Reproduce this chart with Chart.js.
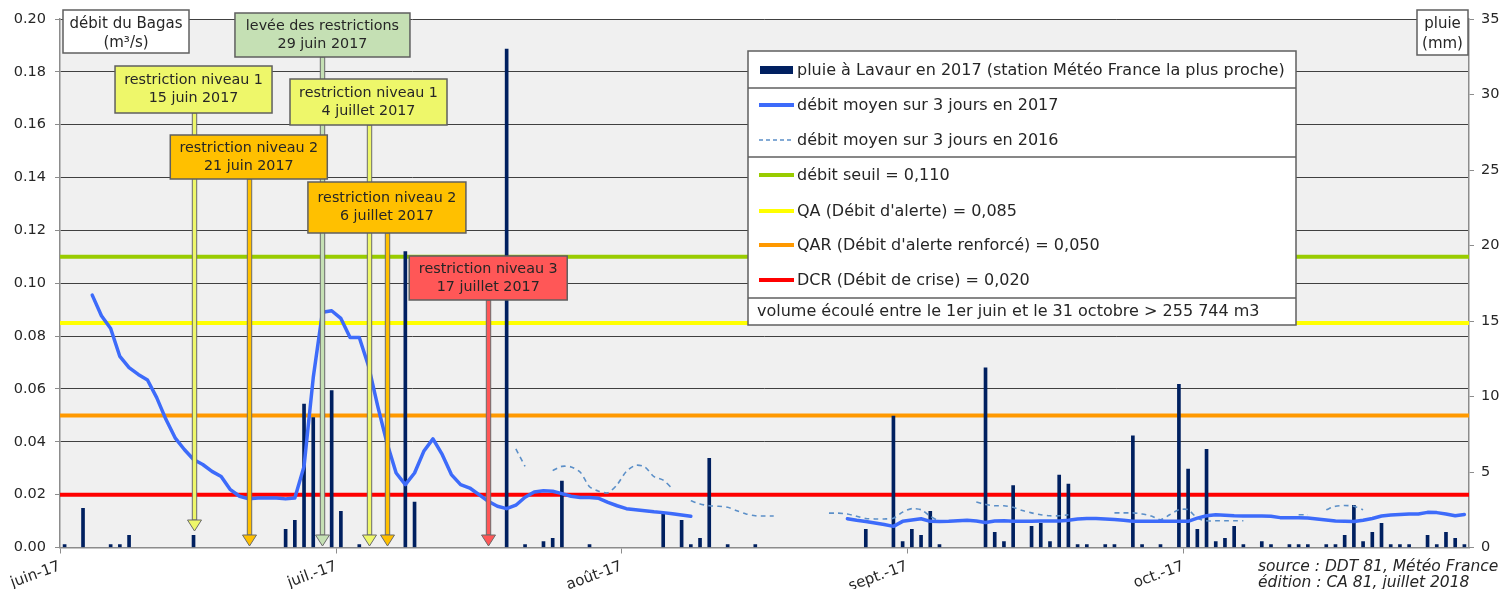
<!DOCTYPE html>
<html><head><meta charset="utf-8">
<script src="https://cdn.jsdelivr.net/npm/chart.js@4.4.1/dist/chart.umd.min.js"></script>
<style>html,body{margin:0;padding:0;background:#fff;}#wrap{width:1500px;height:589px;position:relative;}</style>
</head><body><div id="wrap"><canvas id="c" width="1500" height="589"></canvas></div>
<script>
// ---------------- DATA ----------------
const totalDays = 153; // 1 June .. 31 October 2017 (day index 0 = 1 June)
const monthStartDays = [0, 30, 61, 92, 122];
const monthLabels = ['juin-17', 'juil.-17', 'août-17', 'sept.-17', 'oct.-17'];
const flowTicks = [0, 0.02, 0.04, 0.06, 0.08, 0.10, 0.12, 0.14, 0.16, 0.18, 0.20];
const rainTicks = [0, 5, 10, 15, 20, 25, 30, 35];

// daily rain at Lavaur (mm)
const rainDays = [0,2,5,6,7,14,24,25,26,27,29,30,32,37,38,48,50,52,53,54,57,65,67,68,69,70,72,75,87,90,91,92,93,94,95,
  100,101,102,103,105,106,107,108,109,110,111,113,114,116,117,119,121,122,123,124,125,126,127,128,130,131,133,134,135,
  137,138,139,140,141,142,143,144,145,146,148,149,150,151,152];
const rainMm = [0.2,2.6,0.2,0.2,0.8,0.8,1.2,1.8,9.5,8.6,10.4,2.4,0.2,19.6,3.0,33.0,0.2,0.4,0.6,4.4,0.2,2.2,1.8,0.2,0.6,5.9,0.2,0.2,1.2,8.7,0.4,1.2,0.8,2.4,0.2,
  11.9,1.0,0.4,4.1,1.4,1.6,0.4,4.8,4.2,0.2,0.2,0.2,0.2,7.4,0.2,0.2,10.8,5.2,1.2,6.5,0.4,0.6,1.4,0.2,0.4,0.2,0.2,0.2,0.2,
  0.2,0.2,0.8,2.8,0.4,1.0,1.6,0.2,0.2,0.2,0.8,0.2,1.0,0.6,0.2];

// 3-day mean flow 2017 (m3/s), starting at day index 3
const flow2017Start = 3;
const flow2017 = [
  0.0955,0.0877,0.0829,0.0723,0.0681,0.0655,0.0634,0.0567,0.0485,0.0415,
  0.0371,0.0333,0.0314,0.0288,0.0269,0.0219,0.0194,0.0184,0.0187,0.0187,
  0.0187,0.0184,0.0187,0.0307,0.0643,0.0890,0.0896,0.0867,0.0795,0.0795,
  0.0687,0.0535,0.0396,0.0282,0.0238,0.0282,0.0364,0.0411,0.0352,0.0276,
  0.0238,0.0225,0.0200,0.0175,0.0156,0.0147,0.0160,0.0190,0.0210,0.0215,
  0.0213,0.0204,0.0194,0.0189,0.0189,0.0186,0.0171,0.0158,0.0147,0.0143,
  0.0139,0.0135,0.0132,0.0128,0.0123,0.0118,null,null,null,null,
  null,null,null,null,null,null,null,null,null,null,
  null,null,0.0109,0.0103,0.0098,0.0093,0.0087,0.0080,0.0099,0.0104,
  0.0109,0.0099,0.0098,0.0099,0.0101,0.0103,0.0100,0.0095,0.0100,0.0101,
  0.0099,0.0099,0.0099,0.0100,0.0100,0.0100,0.0103,0.0108,0.0110,0.0110,
  0.0108,0.0106,0.0103,0.0099,0.0099,0.0099,0.0099,0.0099,0.0099,0.0099,
  0.0111,0.0120,0.0124,0.0122,0.0120,0.0119,0.0119,0.0119,0.0118,0.0113,
  0.0113,0.0113,0.0112,0.0108,0.0104,0.0100,0.0099,0.0098,0.0103,0.0110,
  0.0119,0.0123,0.0125,0.0127,0.0127,0.0133,0.0132,0.0127,0.0120,0.0125];

// 3-day mean flow 2016 (m3/s), starting at day index 49
const flow2016Start = 49;
const flow2016 = [
  0.0373,0.0307,null,null,0.0291,0.0307,0.0305,0.0285,0.0230,0.0213,
  0.0207,0.0238,0.0288,0.0311,0.0305,0.0268,0.0255,0.0222,null,0.0177,
  0.0165,0.0158,0.0156,0.0152,0.0139,0.0127,0.0120,0.0119,0.0119,null,
  null,null,null,null,0.0130,0.0130,0.0127,0.0118,0.0110,0.0108,
  0.0108,0.0111,0.0134,0.0147,0.0143,0.0118,0.0099,null,null,null,
  0.0172,0.0163,0.0158,0.0158,0.0152,0.0140,0.0131,0.0124,0.0120,0.0120,
  0.0124,null,null,null,null,0.0131,0.0131,0.0131,0.0127,0.0119,
  0.0105,0.0124,0.0143,0.0143,0.0111,0.0101,0.0101,0.0101,0.0101,0.0101,
  null,null,null,null,null,0.0124,0.0124,null,0.0143,0.0156,
  0.0159,0.0156,0.0143];

const thresholdLabels = ['débit seuil = 0,110', "QA (Débit d'alerte) = 0,085", "QAR (Débit d'alerte renforcé) = 0,050", 'DCR (Débit de crise) = 0,020'];
const thresholdValues = [0.110, 0.085, 0.050, 0.020];

// restriction events
const eventDays = [14, 20, 28, 33, 35, 46];
const eventTitles = ['restriction niveau 1', 'restriction niveau 2', 'levée des restrictions', 'restriction niveau 1', 'restriction niveau 2', 'restriction niveau 3'];
const eventDates = ['15 juin 2017', '21 juin 2017', '29 juin 2017', '4 juillet 2017', '6 juillet 2017', '17 juillet 2017'];

// ---------------- STYLE / LAYOUT ----------------
const FONT = '"DejaVu Sans", Verdana, sans-serif';
const TEXT = '#262626';
const AXIS = '#8c8c8c';
const thresholdColors = ['#99CC00', '#FFFF00', '#FF9900', '#FF0000'];
const eventStyle = [
  {fill:'#EEF76A', top:66, bottom:113, width:157, tip:531},
  {fill:'#FFC000', top:135, bottom:179, width:157, tip:546},
  {fill:'#C5E0B4', top:13, bottom:57, width:175, tip:546},
  {fill:'#EEF76A', top:79, bottom:125, width:157, tip:546},
  {fill:'#FFC000', top:182, bottom:233, width:158, tip:546},
  {fill:'#FF5757', top:256, bottom:300, width:158, tip:546}
];

const pts = (start, arr) => arr.map((v, i) => ({x: start + i + 0.5, y: v}));

const datasets = [
  {label:'pluie à Lavaur en 2017 (station Météo France la plus proche)', type:'bar', yAxisID:'y2', xAxisID:'x',
   data: rainDays.map((d, i) => ({x: d + 0.5, y: rainMm[i]})), backgroundColor:'#002060', barThickness:3, order:5, _leg:'bar'},
  {label:'débit moyen sur 3 jours en 2017', type:'line', yAxisID:'y', xAxisID:'x', data: pts(flow2017Start, flow2017),
   borderColor:'#3D6BFA', borderWidth:3.5, pointRadius:0, tension:0, spanGaps:false, borderJoinStyle:'round', borderCapStyle:'round', order:1, _leg:'line'},
  {label:'débit moyen sur 3 jours en 2016', type:'line', yAxisID:'y', xAxisID:'x', data: pts(flow2016Start, flow2016),
   borderColor:'#5B8FC8', borderWidth:1.6, borderDash:[5,4], pointRadius:0, tension:0.25, spanGaps:false, order:2, _leg:'dash'}
];
thresholdValues.forEach((v, i) => datasets.push({
  label: thresholdLabels[i], type:'line', yAxisID:'y', xAxisID:'x',
  data:[{x:0, y:v}, {x:totalDays, y:v}], borderColor: thresholdColors[i], borderWidth:4, pointRadius:0, order:10, _leg:'line'
}));

const bgPlugin = {
  id:'bg',
  beforeDraw(chart){
    const {ctx, chartArea:a} = chart;
    ctx.save();
    ctx.fillStyle = '#fff'; ctx.fillRect(0, 0, chart.width, chart.height);
    ctx.fillStyle = '#F0F0F0'; ctx.fillRect(a.left, a.top, a.right - a.left, a.bottom - a.top);
    ctx.restore();
  }
};

function box(ctx, x0, y0, x1, y1, fill){
  ctx.fillStyle = fill; ctx.fillRect(x0, y0, x1 - x0, y1 - y0);
  ctx.strokeStyle = '#5f5f5f'; ctx.lineWidth = 1.5; ctx.strokeRect(x0, y0, x1 - x0, y1 - y0);
}

const overlay = {
  id:'overlay',
  afterDraw(chart){
    const {ctx} = chart;
    const xs = chart.scales.x;
    ctx.save();
    // arrows
    eventDays.forEach((d, i) => {
      const s = eventStyle[i];
      const x = Math.round(xs.getPixelForValue(d + 0.5)) + 0.5;
      const hh = 11, hw = 7, sw = 2.2;
      ctx.fillStyle = s.fill; ctx.strokeStyle = '#6b6b6b'; ctx.lineWidth = 1;
      ctx.fillRect(x - sw, s.bottom, 2 * sw, s.tip - hh - s.bottom);
      ctx.strokeRect(x - sw, s.bottom, 2 * sw, s.tip - hh - s.bottom);
      ctx.beginPath(); ctx.moveTo(x - hw, s.tip - hh); ctx.lineTo(x + hw, s.tip - hh); ctx.lineTo(x, s.tip); ctx.closePath();
      ctx.fill(); ctx.stroke();
    });
    // boxes
    ctx.font = '14.3px ' + FONT; ctx.textAlign = 'center'; ctx.textBaseline = 'middle';
    eventDays.forEach((d, i) => {
      const s = eventStyle[i];
      const x = xs.getPixelForValue(d + 0.5);
      box(ctx, x - s.width / 2, s.top, x + s.width / 2, s.bottom, s.fill);
      const cy = (s.top + s.bottom) / 2;
      ctx.fillStyle = TEXT;
      ctx.fillText(eventTitles[i], x, cy - 8.8);
      ctx.fillText(eventDates[i], x, cy + 8.8);
    });
    // axis title boxes
    ctx.font = '15px ' + FONT;
    box(ctx, 63, 10, 189, 53, '#fff');
    ctx.fillStyle = TEXT;
    ctx.fillText('débit du Bagas', 126, 24);
    ctx.fillText('(m³/s)', 126, 43);
    box(ctx, 1417, 10, 1468, 55, '#fff');
    ctx.fillStyle = TEXT;
    ctx.fillText('pluie', 1442.5, 24);
    ctx.fillText('(mm)', 1442.5, 44);

    // legend
    const L = {left:748, right:1296, top:51, bottom:325, seps:[88, 157, 298], rows:[70, 105, 140, 175, 211, 245, 280], last:312};
    box(ctx, L.left, L.top, L.right, L.bottom, '#fff');
    ctx.strokeStyle = '#5f5f5f'; ctx.lineWidth = 1.5;
    L.seps.forEach(y => { ctx.beginPath(); ctx.moveTo(L.left, y); ctx.lineTo(L.right, y); ctx.stroke(); });
    ctx.font = '16px ' + FONT; ctx.textAlign = 'left'; ctx.textBaseline = 'middle';
    chart.data.datasets.forEach((ds, i) => {
      const y = L.rows[i];
      ctx.save();
      if (ds._leg === 'bar') {
        ctx.fillStyle = ds.backgroundColor; ctx.fillRect(760, y - 4, 33, 8);
      } else {
        ctx.strokeStyle = ds.borderColor;
        ctx.lineWidth = ds._leg === 'dash' ? 1.6 : 4;
        ctx.setLineDash(ds._leg === 'dash' ? [4, 3] : []);
        ctx.beginPath(); ctx.moveTo(759, y); ctx.lineTo(794, y); ctx.stroke();
      }
      ctx.restore();
      ctx.fillStyle = TEXT;
      ctx.fillText(ds.label, 797, y + 1);
    });
    ctx.fillText('volume écoulé entre le 1er juin et le 31 octobre > 255 744 m3', 757, L.last);

    // source
    ctx.font = 'italic 15.5px ' + FONT;
    ctx.fillText('source : DDT 81, Météo France', 1258, 567);
    ctx.fillText('édition : CA 81, juillet 2018', 1258, 583);
    ctx.restore();
  }
};

new Chart(document.getElementById('c'), {
  type:'bar',
  data:{datasets},
  options:{
    responsive:false, animation:false, devicePixelRatio:1,
    layout:{padding:{top:19, left:0, right:0, bottom:0}},
    plugins:{legend:{display:false}, tooltip:{enabled:false}},
    scales:{
      x:{type:'linear', position:'bottom', min:0, max:totalDays, offset:false,
        afterFit(s){ s.height = 41.5; },
        afterBuildTicks(s){ s.ticks = monthStartDays.map(v => ({value:v})); },
        ticks:{autoSkip:false, minRotation:20, maxRotation:20, padding:4, color:TEXT, font:{family:FONT, size:15},
          callback:(v) => { const k = monthStartDays.indexOf(v); return k >= 0 ? monthLabels[k] : ''; }},
        grid:{offset:false, drawOnChartArea:false, drawTicks:true, tickLength:6, tickColor:AXIS, color:AXIS},
        border:{color:AXIS, width:1.5}},
      y:{type:'linear', position:'left', min:0, max:0.2,
        afterFit(s){ s.width = 60; },
        afterBuildTicks(s){ s.ticks = flowTicks.map(v => ({value:v})); },
        ticks:{padding:9, color:TEXT, font:{family:FONT, size:14.5}, callback:(v) => v.toFixed(2)},
        grid:{color:'#404040', lineWidth:1, tickLength:5, tickColor:AXIS},
        border:{color:AXIS, width:1.5}},
      y2:{type:'linear', position:'right', min:0, max:35,
        afterFit(s){ s.width = 31; },
        afterBuildTicks(s){ s.ticks = rainTicks.map(v => ({value:v})); },
        ticks:{padding:7, color:TEXT, font:{family:FONT, size:14.5}},
        grid:{drawOnChartArea:false, tickLength:5, tickColor:AXIS},
        border:{color:AXIS, width:1.5}}
    }
  },
  plugins:[bgPlugin, overlay]
});
</script></body></html>
